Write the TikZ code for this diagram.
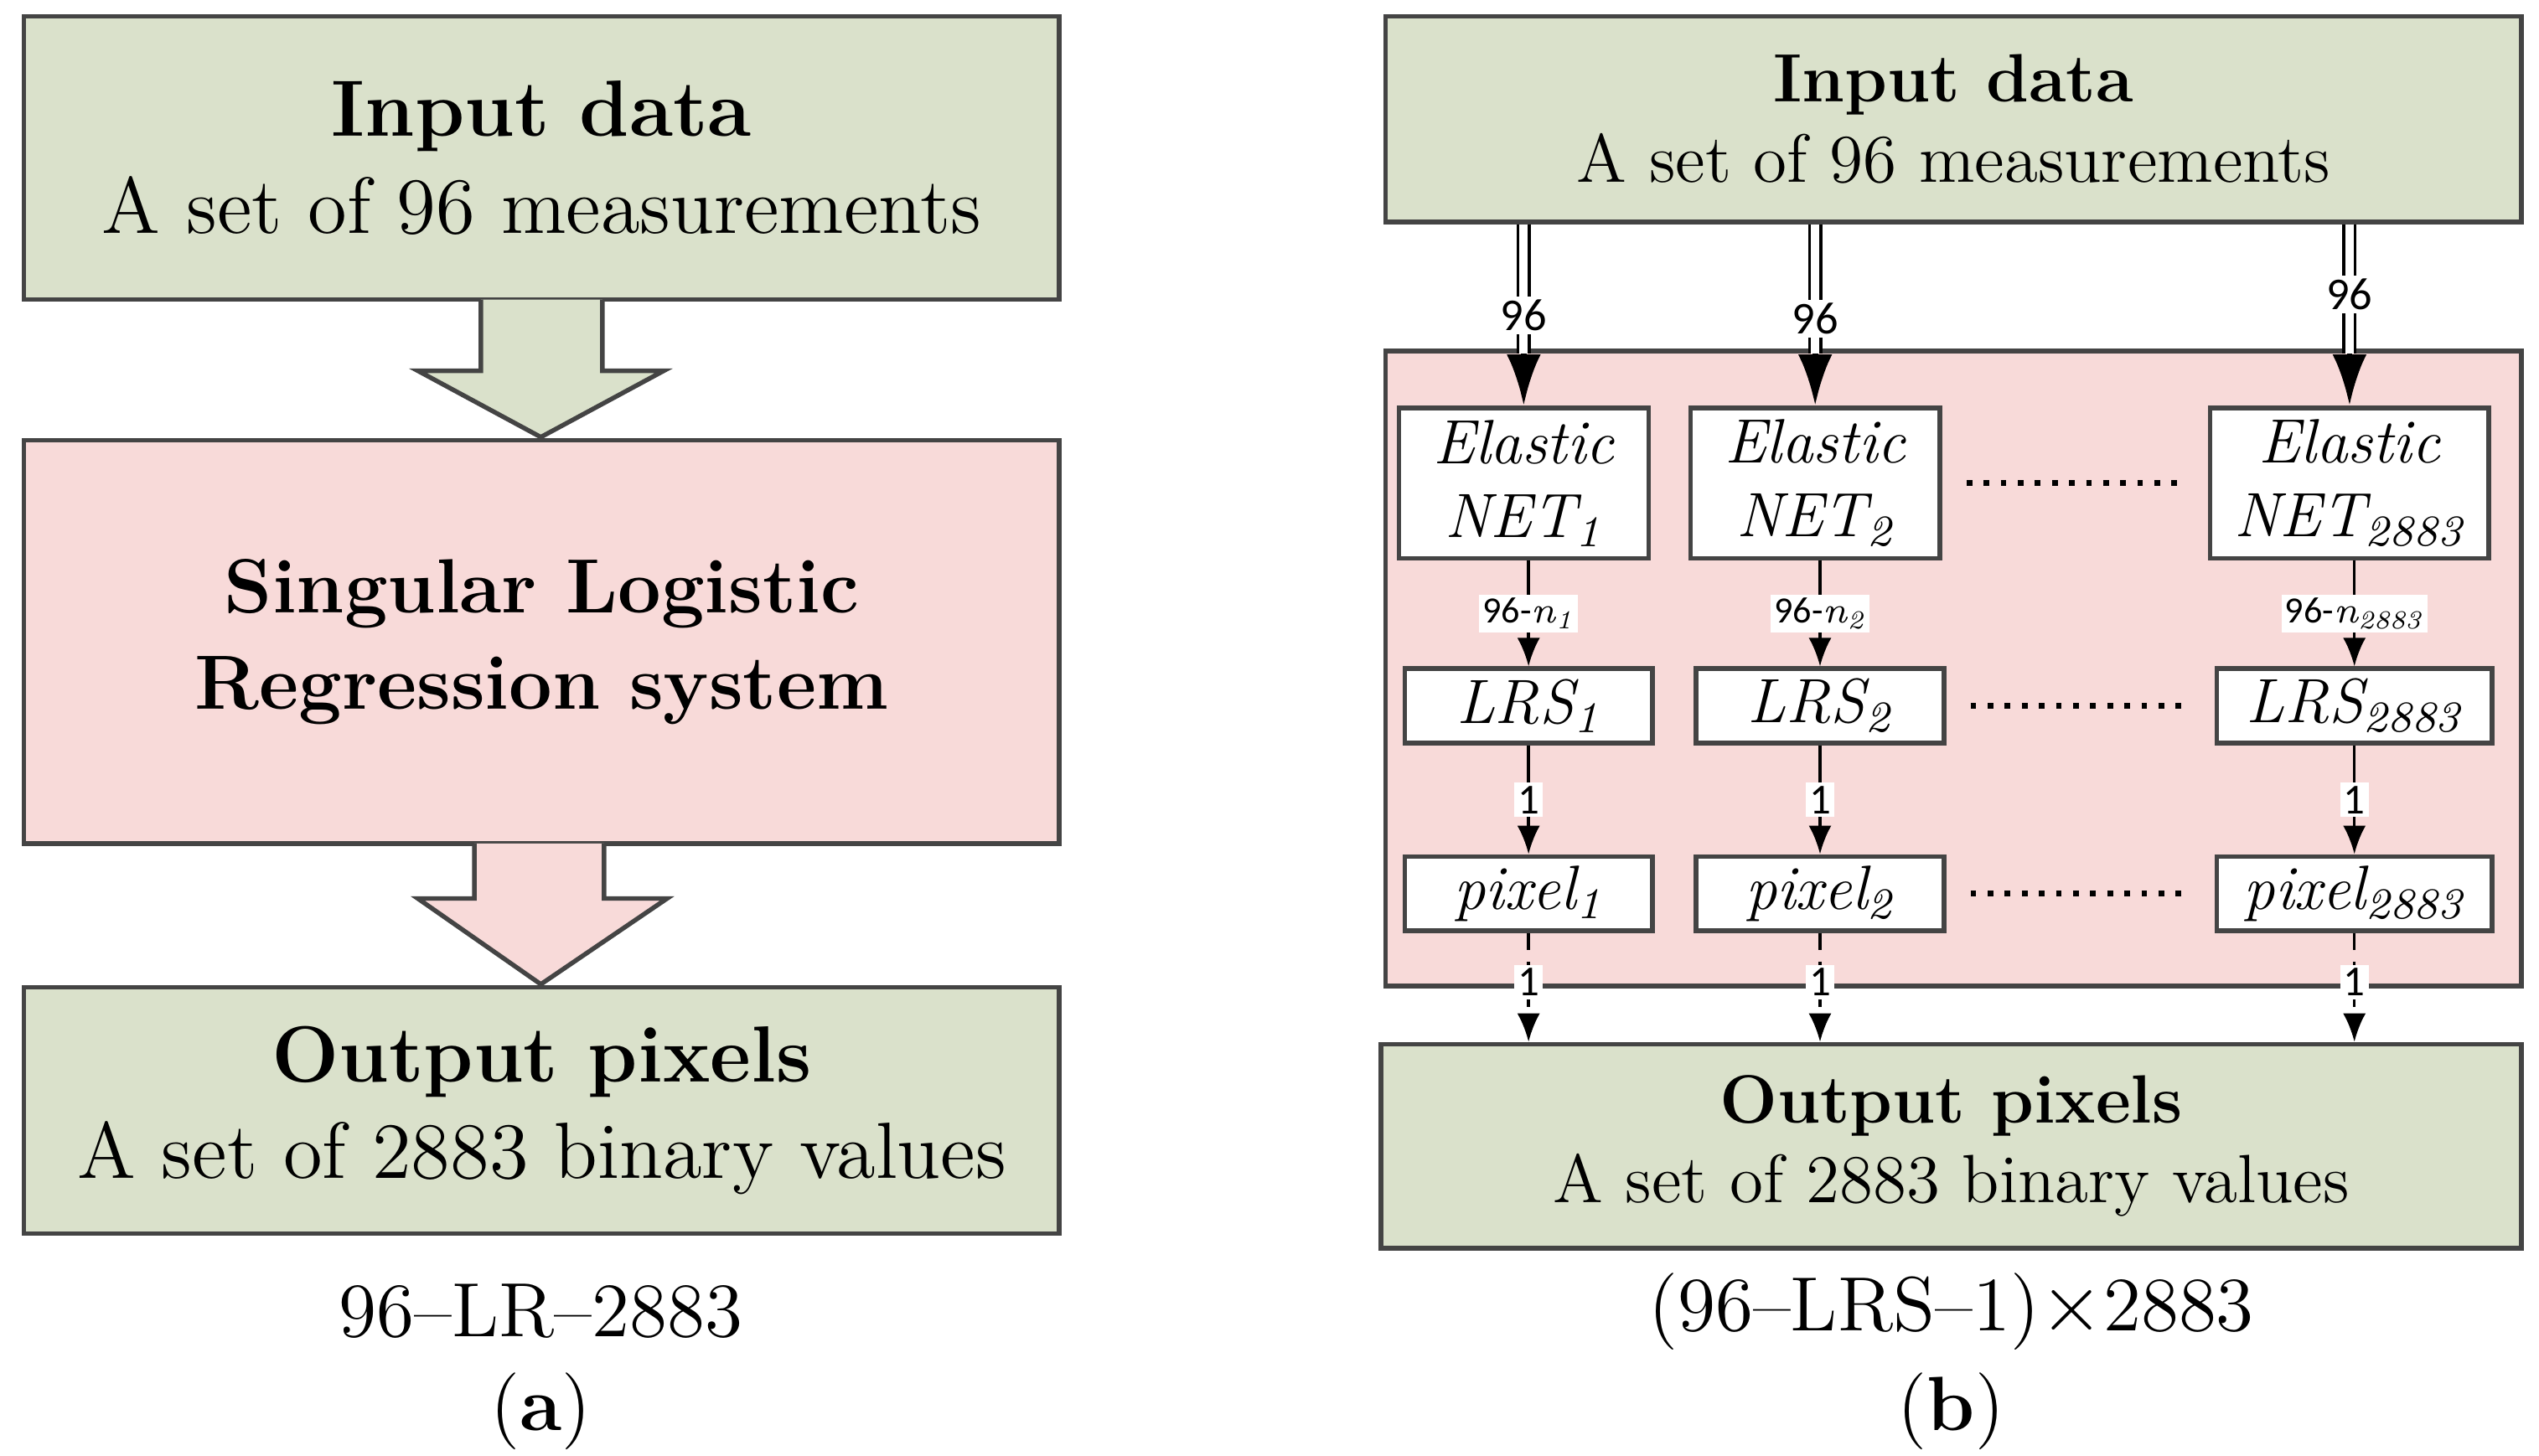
\documentclass[tikz,border=0pt]{standalone}
\usepackage{fontspec}
\newfontfamily\lblfont{Carlito}
\usetikzlibrary{arrows.meta,positioning}
\definecolor{boxgreen}{HTML}{DAE1CB}
\definecolor{boxpink}{HTML}{F8DAD9}
\definecolor{edgegray}{HTML}{444444}

\tikzset{
  bigbox/.style={draw=edgegray,line width=0.8pt,align=center,inner sep=0pt},
  smallbox/.style={draw=edgegray,line width=0.8pt,fill=white,inner sep=0pt,
    font=\fontsize{11}{13}\selectfont\itshape},
  lbl/.style={fill=white,inner sep=0.6pt,font=\lblfont\fontsize{6.5}{7}\selectfont},
  flow/.style={-{Latex[length=5pt,width=4pt]},line width=0.5pt},
  dotline/.style={dotted,line width=1pt}
}

\begin{document}
\begin{tikzpicture}[x=0.01cm,y=-0.01cm]
  \useasboundingbox (0,0) rectangle (1568,899);

  % (a)
  \node[bigbox,fill=boxgreen,minimum width=6.39cm,minimum height=1.75cm,
    font=\fontsize{14}{17}\selectfont] (in1) at (334.5,97.5)
    {\textbf{Input data}\\A set of 96 measurements};
  \node[bigbox,fill=boxpink,minimum width=6.39cm,minimum height=2.49cm,
    font=\fontsize{13.5}{17}\selectfont\bfseries] (slr) at (334.5,396.5)
    {Singular Logistic\\Regression system};
  \node[bigbox,fill=boxgreen,minimum width=6.39cm,minimum height=1.52cm,
    font=\fontsize{14}{17}\selectfont] (out1) at (334.5,686)
    {\textbf{Output pixels}\\A set of 2883 binary values};
  \draw[edgegray,line width=0.8pt,fill=boxgreen]
    (297,185) -- (297,229) -- (258,229) -- (334,270) -- (410,229) -- (372,229) -- (372,185);
  \draw[edgegray,line width=0.8pt,fill=boxpink]
    (293,521) -- (293,555) -- (258,555) -- (334,608) -- (412,555) -- (373,555) -- (373,521);
  \node[font=\fontsize{13.5}{16}\selectfont] (capa) at (334,810) {96--LR--2883};
  \node[font=\fontsize{13.5}{16}\selectfont] (taga) at (334,872) {(\textbf{a})};

  % (b)
  \node[bigbox,fill=boxgreen,minimum width=7.01cm,minimum height=1.27cm,
    font=\fontsize{12}{14}\selectfont] (in2) at (1206.5,73.5)
    {\textbf{Input data}\\A set of 96 measurements};
  \node[bigbox,fill=boxpink,minimum width=7.01cm,minimum height=3.92cm] (frame) at (1206.5,413) {};
  \node[bigbox,fill=boxgreen,minimum width=7.04cm,minimum height=1.26cm,
    font=\fontsize{12}{14}\selectfont] (out2) at (1205,708)
    {\textbf{Output pixels}\\A set of 2883 binary values};

  \foreach \i/\x/\w/\v/\s in {1/941/1.54/1.53/1,2/1121/1.54/1.53/2,3/1451/1.72/1.70/2883}{
    \node[smallbox,minimum width=\w cm,minimum height=0.93cm,align=center] (en\i) at (\x,298.5)
      {Elastic\\NET\textsubscript{\s}};
    \node[smallbox,minimum width=\v cm,minimum height=0.46cm] (lrs\i) at (\x+3,436)
      {LRS\textsubscript{\s}};
    \node[smallbox,minimum width=\v cm,minimum height=0.46cm] (px\i) at (\x+3,552)
      {pixel\textsubscript{\s}};
  }

  % connectors
  \foreach \i/\t in {1/n_1,2/n_2,3/n_{2883}}{
    \coordinate (top\i) at ([yshift=0.32cm]en\i.north);
    \draw[double,double distance=1.5pt,line width=0.5pt] (en\i.north |- in2.south) -- (top\i);
    \draw[-{Latex[length=9pt,width=6pt]},line width=1pt] (top\i) -- (en\i.north);
    \draw[flow] (en\i.south -| lrs\i) -- node[lbl] {96-$\mathit{\t}$} (lrs\i);
    \draw[flow] (lrs\i) -- node[lbl,font=\lblfont\fontsize{7.5}{8}\selectfont] {1} (px\i);
    \draw[flow,densely dashed] (px\i) -- node[lbl,pos=0.45,font=\lblfont\fontsize{7.5}{8}\selectfont] {1} (px\i |- out2.north);
  }
  \node[lbl,font=\lblfont\fontsize{8}{9}\selectfont] (n96a) at (en1.north |- 0,195) {96};
  \node[lbl,font=\lblfont\fontsize{8}{9}\selectfont] (n96b) at (en2.north |- 0,197) {96};
  \node[lbl,font=\lblfont\fontsize{8}{9}\selectfont] (n96c) at (en3.north |- 0,182) {96};

  \draw[dotline] ([xshift=0.15cm]en2.east) -- ([xshift=-0.15cm]en3.west);
  \draw[dotline] ([xshift=0.15cm]lrs2.east) -- ([xshift=-0.15cm]lrs3.west);
  \draw[dotline] ([xshift=0.15cm]px2.east) -- ([xshift=-0.15cm]px3.west);

  \node[font=\fontsize{13.5}{16}\selectfont] (capb) at (1205,810) {(96--LRS--1)$\times$2883};
  \node[font=\fontsize{13.5}{16}\selectfont] (tagb) at (1205,872) {(\textbf{b})};
\end{tikzpicture}
\end{document}
